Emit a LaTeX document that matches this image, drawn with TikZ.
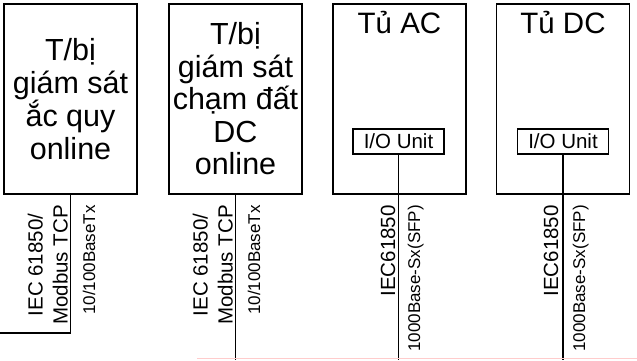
\documentclass[tikz,border=0pt]{standalone}
\usepackage{fontspec}
\setmainfont{Liberation Sans}

\tikzset{
	dev/.style={draw, line width=1.8pt, minimum width=133pt, minimum height=190pt, inner sep=0pt, align=center, font=\fontsize{30.5}{32.5}\selectfont},
	iou/.style={draw, line width=1.8pt, minimum width=91pt, minimum height=25pt, inner sep=0pt, font=\fontsize{20.5}{22}\selectfont},
	proto/.style={rotate=90, inner sep=0pt, align=center, font=\fontsize{20.5}{25}\selectfont},
	speed/.style={rotate=90, anchor=base east, inner sep=0pt, font=\fontsize{17}{20}\selectfont},
	link/.style={line width=1.8pt}
}

\begin{document}
\begin{tikzpicture}[x=1pt,y=-1pt]
	\useasboundingbox (0,0) rectangle (637,360);
	% devices
	\node[dev] (bat) at (70.5,99) {T/bị\\giám sát\\ắc quy\\online};
	\node[dev] (gnd) at (235.5,99) {T/bị\\giám sát\\chạm đất\\DC\\online};
	\node[dev] (ac) at (399.5,99) {};
	\node[dev] (dc) at (563,99) {};
	\node[anchor=base, font=\fontsize{29.5}{32}\selectfont] (acname) at (399.5,33) {Tủ AC};
	\node[anchor=base, font=\fontsize{29.5}{32}\selectfont] (dcname) at (563,33) {Tủ DC};
	\node[iou] (acio) at (398.5,141.5) {I/O Unit};
	\node[iou] (dcio) at (563,141.5) {I/O Unit};
	% ends of the links
	\coordinate (batend) at (0,333);
	\coordinate (bus) at (0,360);
	\draw[link] (bat.south) |- (batend);
	\draw[link] (gnd.south) -- (gnd.south |- bus);
	\draw[link] (acio.south) -- (acio.south |- bus);
	\draw[link] (dcio.south) -- (dcio.south |- bus);
	% labels
	\node[proto, anchor=south east] (batp) at (68,205) {IEC 61850/\\Modbus TCP};
	\node[proto, anchor=south east] (gndp) at (233,205) {IEC 61850/\\Modbus TCP};
	\node[proto, anchor=base east] (acp) at (395,205) {IEC61850};
	\node[proto, anchor=base east] (dcp) at (558,205) {IEC61850};
	\node[speed] (bats) at (95,205) {10/100BaseTx};
	\node[speed] (gnds) at (260,205) {10/100BaseTx};
	\node[speed] (acs) at (420,205) {1000Base-Sx(SFP)};
	\node[speed] (dcs) at (585,205) {1000Base-Sx(SFP)};
	% faint bus edge
	\coordinate (redl) at (197,358.5);
	\coordinate (redr) at (637,358.5);
	\draw[red!20, line width=1.5pt] (redl) -- (redr);
\end{tikzpicture}
\end{document}
